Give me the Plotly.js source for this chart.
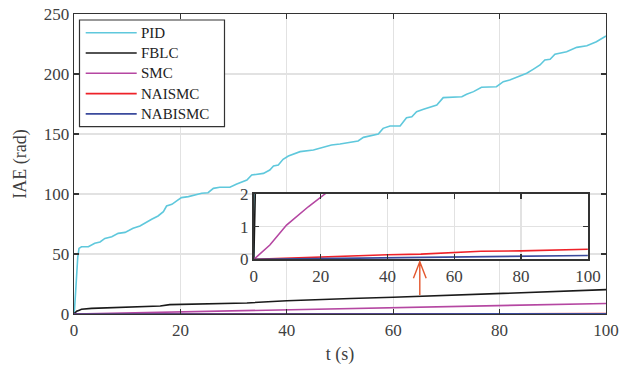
<!DOCTYPE html>
<html>
<head>
<meta charset="utf-8">
<script src="https://cdn.plot.ly/plotly-3.0.1.min.js"></script>
<style>
  html, body { margin: 0; padding: 0; background: #fff; }
  #chart { width: 621px; height: 368px; }
</style>
</head>
<body>
<div id="chart"></div>
<script>
// Integral of absolute error (rad) over time (s) for each controller
const pidT = [0, 0.1, 0.3, 0.5, 0.7, 0.94, 1.4, 2.7, 3.9, 4.9, 5.8, 7.1, 8.3, 9.6, 11.1, 12.4, 13.7, 14.6, 15.8, 16.8, 17.4, 18.4, 19.3, 20.2, 21.5, 22.7, 24.0, 25.2, 26.2, 27.4, 29.3, 30.6, 31.8, 32.5, 33.4, 35.6, 36.8, 37.5, 38.4, 39.3, 40.3, 42.5, 45.0, 46.2, 47.2, 48.4, 50.0, 51.9, 53.4, 54.4, 55.6, 57.2, 58.1, 59.4, 61.3, 62.5, 63.5, 64.4, 65.7, 66.9, 68.2, 69.4, 70.7, 72.9, 73.8, 75.1, 76.6, 79.4, 80.7, 81.9, 83.8, 85.1, 86.3, 87.6, 88.5, 89.5, 90.4, 92.6, 94.5, 96.4, 98.2, 100];
const pidIAE = [0, 4, 18, 34, 47, 54.7, 56, 56, 59, 60, 63, 64.4, 67.2, 68, 71.4, 73.3, 77, 79, 81.7, 85.3, 90, 91.4, 94.2, 97, 97.8, 99.2, 100.6, 101.1, 104.7, 105.6, 105.6, 108.3, 110.3, 111.7, 115.8, 117.2, 120, 123.3, 124.2, 128.9, 131.7, 135.3, 136.7, 138, 139.4, 140.8, 141.7, 143.1, 144.2, 147.2, 148.3, 150, 154.7, 156.7, 156.7, 163.6, 164.4, 168.6, 170.6, 172.2, 174.2, 180.3, 180.6, 181.1, 183.1, 185.3, 188.9, 189.4, 193.6, 195, 198.3, 200.6, 203.9, 207.5, 211.7, 212.2, 216.4, 218.6, 222.2, 223.6, 226.9, 231.7];

const fblcT = [0, 0.2, 0.5, 1, 1.4, 3.3, 8, 16.2, 18, 25, 32.5, 40, 46.2, 52, 60, 70, 80, 90, 100];
const fblcIAE = [0, 1.0, 2.3, 3.2, 3.9, 4.7, 5.6, 6.7, 7.8, 8.5, 9.2, 11.1, 12.2, 12.9, 13.9, 15.5, 17.2, 18.8, 20.3];

const smcT = [0, 4.8, 9.8, 16.3, 21.3, 30, 40, 50, 60, 70, 80, 90, 100];
const smcIAE = [0, 0.44, 1.05, 1.61, 2.0, 2.9, 3.9, 4.6, 5.3, 6.1, 7.0, 7.9, 8.8];

const naismcT = [0, 10, 20, 30, 40, 50, 60, 68, 80, 90, 100];
const naismcIAE = [0, 0.04, 0.08, 0.11, 0.14, 0.16, 0.2, 0.25, 0.26, 0.28, 0.31];

const nabismcT = [0, 20, 40, 60, 80, 100];
const nabismcIAE = [0, 0.025, 0.045, 0.07, 0.095, 0.12];

const seriesNames = ['PID', 'FBLC', 'SMC', 'NAISMC', 'NABISMC'];
const seriesColors = ['#5fc8dc', '#1a1a1a', '#b547a2', '#ee2229', '#3a4a9c'];

const xTickVals = [0, 20, 40, 60, 80, 100];
const yTickVals = [0, 50, 100, 150, 200, 250];
const insetYTickVals = [0, 1, 2];

const series = [
  [pidT, pidIAE], [fblcT, fblcIAE], [smcT, smcIAE],
  [naismcT, naismcIAE], [nabismcT, nabismcIAE]
];

const font = 'Liberation Serif, Times New Roman, serif';
const ink = '#404040';
const frame = '#333333';
const grid = '#e2e2e2';

const traces = [];
// main panel
series.forEach((s, i) => {
  traces.push({
    x: s[0], y: s[1], type: 'scatter', mode: 'lines',
    name: seriesNames[i], line: {color: seriesColors[i], width: 1.6},
    xaxis: 'x', yaxis: 'y', hoverinfo: 'skip', showlegend: false
  });
});
// zoomed inset of the lower range
series.forEach((s, i) => {
  traces.push({
    x: s[0], y: s[1], type: 'scatter', mode: 'lines',
    name: seriesNames[i], line: {color: seriesColors[i], width: 1.6},
    xaxis: 'x2', yaxis: 'y2', showlegend: false, hoverinfo: 'skip'
  });
});

function axisStyle(extra) {
  return Object.assign({
    showline: true, linecolor: frame, linewidth: 1.3, mirror: 'ticks',
    ticks: 'inside', ticklen: 5, tickwidth: 1.3, tickcolor: frame,
    showgrid: true, gridcolor: grid, gridwidth: 1.3, zeroline: false,
    tickfont: {family: font, size: 17, color: ink},
    fixedrange: true
  }, extra);
}

// plot-area geometry (px) used to place the key in paper coordinates
const M = {l: 74, r: 15, t: 14, b: 54};
const plotW = 621 - M.l - M.r, plotH = 368 - M.t - M.b;
const px2x = px => (px - M.l) / plotW;
const px2y = py => (368 - M.b - py) / plotH;

// key box with long line samples
const key = {left: 79.5, right: 224.5, top: 20, bottom: 126.7,
             lineX0: 85.7, lineX1: 136.7, textX: 139, row0: 32.7, rowStep: 20.3};

const shapes = [];
const annotations = [];

shapes.push({
  type: 'rect', xref: 'paper', yref: 'paper', layer: 'above',
  x0: px2x(key.left), x1: px2x(key.right), y0: px2y(key.bottom), y1: px2y(key.top),
  line: {color: frame, width: 1.2}, fillcolor: 'rgba(255,255,255,1)'
});
seriesNames.forEach((name, i) => {
  const yy = px2y(key.row0 + i * key.rowStep);
  shapes.push({
    type: 'line', xref: 'paper', yref: 'paper', layer: 'above',
    x0: px2x(key.lineX0), x1: px2x(key.lineX1), y0: yy, y1: yy,
    line: {color: seriesColors[i], width: 1.6}
  });
  annotations.push({
    xref: 'paper', yref: 'paper', x: px2x(key.textX), y: yy,
    xanchor: 'left', yanchor: 'middle', showarrow: false, text: name,
    font: {family: font, size: 15, color: '#222'}
  });
});

// arrow pointing at the zoomed region
const arrowX = 65, arrowTail = 15.8, arrowTip = 43.5, headHalfW = 1.2, headLen = 13.8;
shapes.push({
  type: 'path', xref: 'x', yref: 'y', layer: 'above',
  path: 'M' + arrowX + ',' + arrowTail + ' L' + arrowX + ',' + arrowTip +
        ' M' + (arrowX - headHalfW) + ',' + (arrowTip - headLen) +
        ' L' + arrowX + ',' + arrowTip +
        ' L' + (arrowX + headHalfW) + ',' + (arrowTip - headLen),
  line: {color: '#e4572e', width: 1.4}
});

const layout = {
  width: 621, height: 368,
  margin: M,
  paper_bgcolor: '#ffffff', plot_bgcolor: '#ffffff',
  showlegend: false,
  xaxis: axisStyle({
    range: [0, 100], tickvals: xTickVals, domain: [0, 1], anchor: 'y',
    title: {text: 't (s)', font: {family: font, size: 18, color: ink}, standoff: 8}
  }),
  yaxis: axisStyle({
    range: [0, 250], tickvals: yTickVals, domain: [0, 1], anchor: 'x',
    title: {text: 'IAE (rad)', font: {family: font, size: 18, color: ink}, standoff: 12}
  }),
  xaxis2: axisStyle({
    range: [0, 100], tickvals: xTickVals, domain: [0.338, 0.966], anchor: 'y2',
    linewidth: 1.8
  }),
  yaxis2: axisStyle({
    range: [0, 2], tickvals: insetYTickVals, domain: [0.182, 0.4], anchor: 'x2',
    linewidth: 1.8
  }),
  shapes: shapes,
  annotations: annotations
};

Plotly.newPlot('chart', traces, layout, {staticPlot: true, displayModeBar: false});
</script>
</body>
</html>
